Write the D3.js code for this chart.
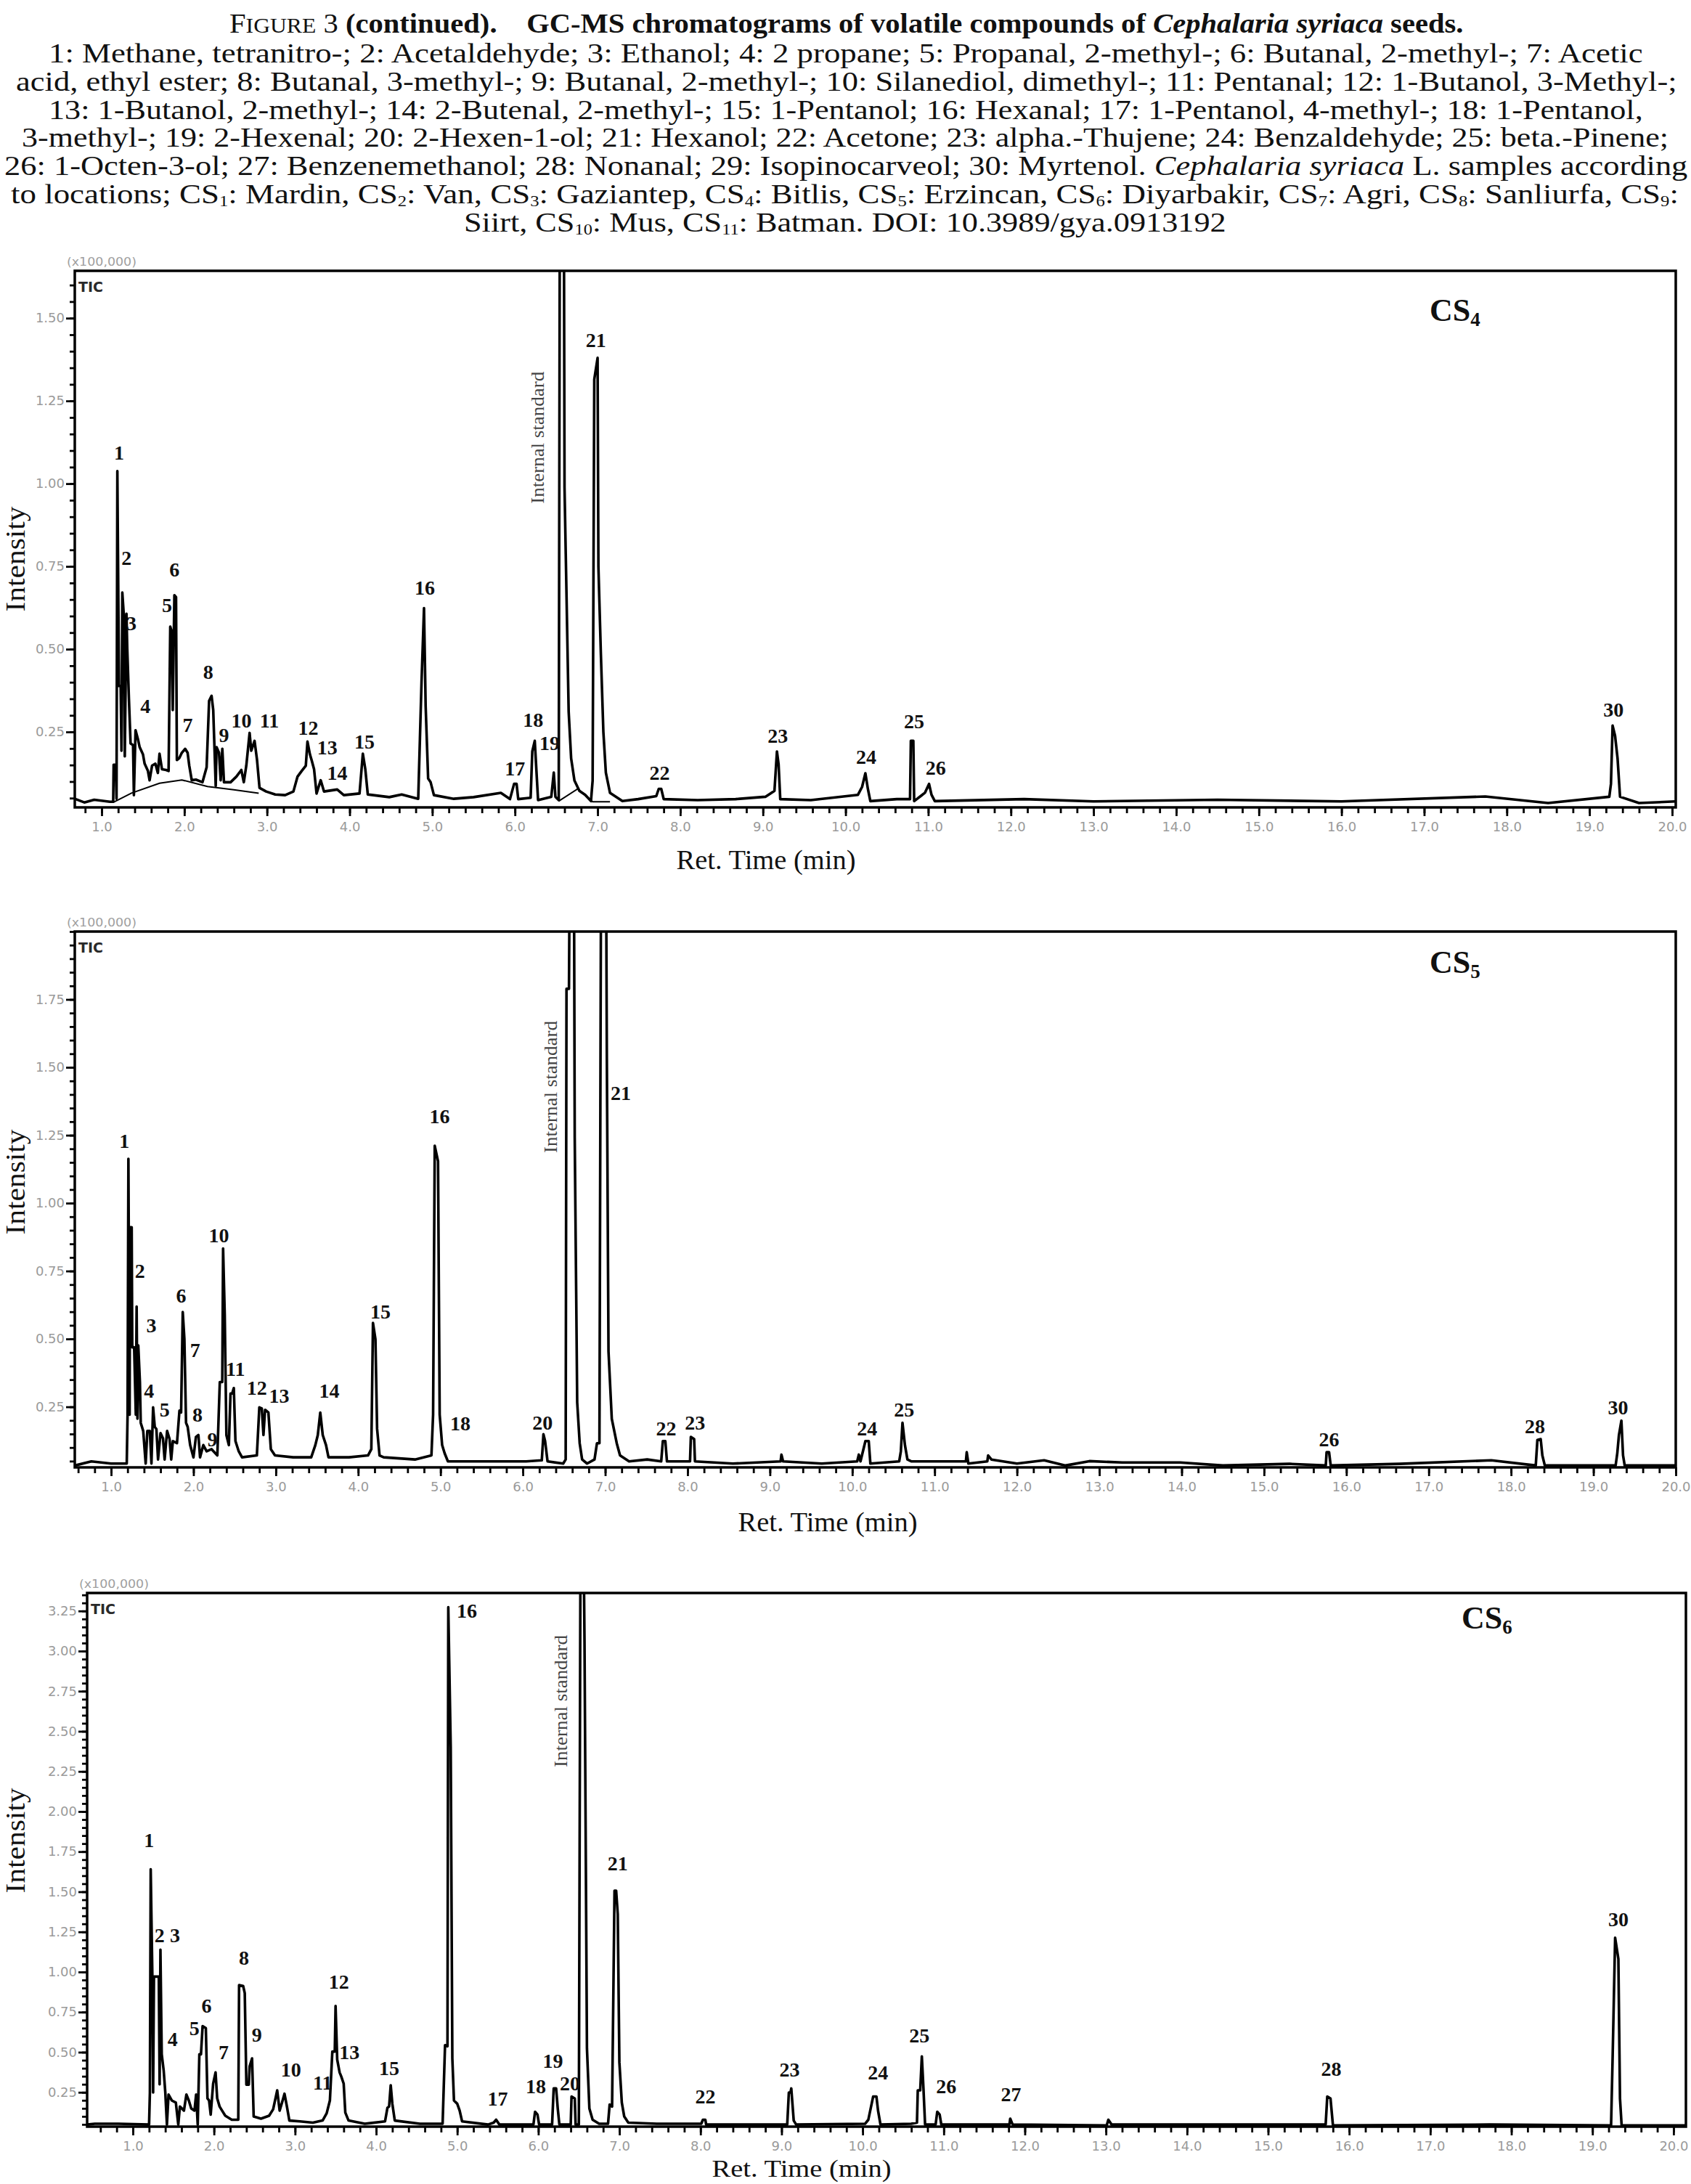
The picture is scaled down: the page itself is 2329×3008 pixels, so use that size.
<!DOCTYPE html>
<html>
<head>
<meta charset="utf-8">
<script src="https://d3js.org/d3.v7.min.js"></script>
<style>
    body { margin: 0; background: #fff; }
    .frame { fill: none; stroke: #000; stroke-width: 3.5; }
    .trace { fill: none; stroke: #000; stroke-width: 3.6; stroke-linejoin: round; }
    .base { fill: none; stroke: #000; stroke-width: 2; }
    .peak { font-family: "Liberation Serif", serif; font-weight: bold; font-size: 28px; fill: #111; }
</style>
</head>
<body>
<svg id="fig" width="2329" height="3008"></svg>
<script>
// ---- data: [retention time (min), intensity (x100,000)] ----
var cs4Trace = [[0.675,0.048],[0.79,0.037],[0.91,0.045],[1.10,0.039],[1.14,0.039],[1.145,0.151],[1.17,0.151],[1.18,0.048],[1.19,1.038],[1.21,0.389],[1.23,0.389],[1.24,0.193],[1.25,0.671],[1.27,0.596],[1.28,0.176],[1.30,0.607],[1.31,0.501],[1.33,0.350],[1.35,0.215],[1.38,0.21],[1.39,0.059],[1.41,0.255],[1.44,0.227],[1.46,0.204],[1.50,0.182],[1.52,0.154],[1.56,0.132],[1.58,0.104],[1.61,0.148],[1.65,0.154],[1.68,0.126],[1.70,0.184],[1.73,0.137],[1.78,0.135],[1.81,0.132],[1.83,0.568],[1.85,0.551],[1.86,0.316],[1.88,0.663],[1.90,0.657],[1.91,0.165],[1.94,0.171],[1.97,0.187],[2.01,0.199],[2.04,0.187],[2.06,0.148],[2.09,0.104],[2.14,0.106],[2.22,0.098],[2.27,0.143],[2.30,0.344],[2.33,0.359],[2.35,0.316],[2.38,0.087],[2.39,0.204],[2.42,0.187],[2.44,0.104],[2.46,0.199],[2.48,0.098],[2.56,0.098],[2.63,0.115],[2.69,0.135],[2.72,0.098],[2.75,0.148],[2.79,0.247],[2.81,0.193],[2.85,0.223],[2.88,0.165],[2.91,0.081],[2.99,0.07],[3.10,0.061],[3.22,0.059],[3.32,0.07],[3.37,0.115],[3.42,0.132],[3.47,0.148],[3.49,0.221],[3.52,0.182],[3.54,0.165],[3.57,0.137],[3.60,0.064],[3.65,0.104],[3.69,0.07],[3.85,0.076],[3.93,0.059],[4.12,0.064],[4.16,0.184],[4.19,0.137],[4.22,0.061],[4.48,0.053],[4.63,0.061],[4.83,0.048],[4.87,0.40],[4.90,0.624],[4.92,0.327],[4.95,0.109],[4.98,0.098],[5.02,0.059],[5.26,0.048],[5.50,0.053],[5.83,0.066],[5.94,0.047],[5.99,0.093],[6.02,0.093],[6.04,0.047],[6.19,0.051],[6.21,0.191],[6.24,0.223],[6.26,0.133],[6.28,0.044],[6.44,0.054],[6.47,0.127],[6.49,0.054],[6.53,0.044],[6.545,2.1],[6.59,2.1],[6.60,0.989],[6.65,0.312],[6.68,0.170],[6.72,0.103],[6.78,0.072],[6.85,0.06],[6.92,0.041],[6.94,0.103],[6.96,1.315],[7.00,1.380],[7.01,0.749],[7.04,0.484],[7.07,0.250],[7.10,0.127],[7.15,0.066],[7.21,0.056],[7.30,0.041],[7.49,0.047],[7.71,0.056],[7.74,0.078],[7.77,0.078],[7.80,0.047],[8.21,0.044],[8.67,0.047],[9.03,0.054],[9.14,0.072],[9.17,0.191],[9.19,0.152],[9.21,0.047],[9.58,0.044],[10.15,0.06],[10.20,0.084],[10.24,0.125],[10.27,0.078],[10.30,0.041],[10.62,0.047],[10.78,0.047],[10.79,0.223],[10.82,0.223],[10.83,0.041],[10.96,0.066],[11.01,0.093],[11.04,0.06],[11.08,0.041],[12.16,0.047],[13.0,0.04],[14.5,0.045],[16.0,0.04],[17.74,0.055],[18.5,0.035],[19.24,0.054],[19.26,0.093],[19.28,0.269],[19.31,0.238],[19.34,0.170],[19.37,0.054],[19.6,0.035],[20.044,0.04]];
var cs4Baselines = [
    [[1.14,0.037],[1.36,0.065],[1.7,0.095],[1.97,0.105],[2.28,0.085],[2.6,0.075],[2.9,0.065]],
    [[6.53,0.041],[6.76,0.078],[6.94,0.039],[7.15,0.039]]
];
var cs4Labels = [["1",1.21,1.094],["2",1.30,0.775],["3",1.36,0.579],["4",1.53,0.329],["5",1.79,0.632],["6",1.88,0.741],["7",2.04,0.271],["8",2.29,0.430],["9",2.48,0.240],["10",2.69,0.285],["11",3.03,0.285],["12",3.50,0.263],["13",3.73,0.204],["14",3.85,0.126],["15",4.18,0.221],["16",4.91,0.685],["17",6.00,0.140],["18",6.22,0.287],["19",6.42,0.216],["21",6.98,1.434],["22",7.75,0.127],["23",9.18,0.238],["24",10.25,0.174],["25",10.83,0.281],["26",11.09,0.142],["30",19.29,0.318]];
var cs4Istd = [6.27, 1.139];
var cs4YTicks = [0.25, 0.50, 0.75, 1.00, 1.25, 1.50];

var cs5Trace = [[0.56,0.034],[0.76,0.049],[1.0,0.041],[1.19,0.041],[1.20,0.221],[1.21,1.163],[1.225,0.221],[1.23,0.911],[1.25,0.911],[1.257,0.469],[1.28,0.469],[1.30,0.221],[1.31,0.619],[1.32,0.206],[1.33,0.476],[1.35,0.341],[1.36,0.191],[1.39,0.161],[1.42,0.041],[1.44,0.161],[1.47,0.161],[1.49,0.041],[1.51,0.248],[1.53,0.176],[1.55,0.168],[1.57,0.056],[1.60,0.153],[1.63,0.134],[1.65,0.056],[1.68,0.161],[1.71,0.131],[1.73,0.056],[1.75,0.124],[1.80,0.116],[1.83,0.236],[1.85,0.229],[1.87,0.599],[1.89,0.499],[1.91,0.191],[1.93,0.176],[1.96,0.109],[2.00,0.064],[2.03,0.139],[2.06,0.146],[2.08,0.064],[2.12,0.109],[2.16,0.086],[2.22,0.094],[2.29,0.071],[2.32,0.341],[2.35,0.341],[2.36,0.833],[2.38,0.589],[2.40,0.146],[2.43,0.109],[2.45,0.299],[2.47,0.299],[2.49,0.319],[2.51,0.124],[2.55,0.086],[2.59,0.064],[2.77,0.071],[2.80,0.248],[2.83,0.244],[2.85,0.146],[2.87,0.239],[2.91,0.229],[2.94,0.094],[2.99,0.071],[3.21,0.064],[3.43,0.064],[3.48,0.109],[3.51,0.146],[3.54,0.229],[3.57,0.146],[3.61,0.109],[3.64,0.064],[3.89,0.064],[4.12,0.071],[4.16,0.094],[4.18,0.559],[4.21,0.499],[4.23,0.169],[4.26,0.071],[4.31,0.064],[4.69,0.056],[4.89,0.071],[4.91,0.221],[4.93,1.211],[4.97,1.154],[4.99,0.221],[5.02,0.109],[5.05,0.079],[5.09,0.049],[5.42,0.049],[5.89,0.049],[6.04,0.049],[6.23,0.053],[6.25,0.149],[6.27,0.124],[6.30,0.049],[6.49,0.041],[6.52,0.056],[6.53,1.789],[6.56,1.789],[6.57,2.3],[6.62,2.3],[6.63,1.241],[6.66,0.266],[6.69,0.116],[6.72,0.056],[6.78,0.041],[6.87,0.056],[6.90,0.116],[6.93,0.116],[6.95,2.3],[7.01,2.3],[7.02,1.534],[7.04,0.454],[7.08,0.206],[7.14,0.116],[7.18,0.071],[7.29,0.049],[7.51,0.056],[7.68,0.049],[7.70,0.124],[7.73,0.124],[7.75,0.049],[8.03,0.049],[8.04,0.139],[8.08,0.131],[8.09,0.049],[8.55,0.041],[9.13,0.049],[9.14,0.074],[9.16,0.049],[9.63,0.041],[10.06,0.049],[10.08,0.074],[10.10,0.049],[10.16,0.124],[10.20,0.124],[10.22,0.041],[10.57,0.049],[10.59,0.086],[10.61,0.191],[10.64,0.109],[10.67,0.056],[10.72,0.049],[11.38,0.049],[11.39,0.083],[11.41,0.041],[11.64,0.049],[11.65,0.071],[11.69,0.056],[12.0,0.041],[12.33,0.053],[12.59,0.034],[12.88,0.05],[13.28,0.045],[13.98,0.045],[14.5,0.034],[15.31,0.04],[15.75,0.034],[15.76,0.083],[15.79,0.083],[15.81,0.034],[16.65,0.04],[17.76,0.053],[18.30,0.034],[18.32,0.128],[18.36,0.131],[18.38,0.071],[18.41,0.034],[19.27,0.034],[19.29,0.079],[19.31,0.146],[19.34,0.199],[19.36,0.071],[19.38,0.034],[20.0,0.034]];
var cs5Labels = [["1",1.16,1.23],["2",1.35,0.75],["3",1.49,0.55],["4",1.46,0.31],["5",1.65,0.24],["6",1.85,0.66],["7",2.02,0.46],["8",2.05,0.22],["9",2.23,0.13],["10",2.31,0.88],["11",2.51,0.39],["12",2.77,0.32],["13",3.04,0.29],["14",3.65,0.31],["15",4.27,0.60],["16",4.99,1.32],["18",5.24,0.19],["20",6.24,0.191],["21",7.19,1.406],["22",7.74,0.169],["23",8.09,0.191],["24",10.18,0.169],["25",10.63,0.239],["26",15.79,0.131],["28",18.29,0.179],["30",19.30,0.248]];
var cs5Istd = [6.33, 1.428];
var cs5YTicks = [0.25, 0.50, 0.75, 1.00, 1.25, 1.50, 1.75];

var cs6Trace = [[0.436,0.049],[0.53,0.054],[0.82,0.054],[1.20,0.049],[1.21,0.249],[1.22,1.640],[1.24,0.988],[1.25,0.249],[1.26,0.971],[1.32,0.971],[1.33,0.3],[1.34,1.139],[1.356,0.487],[1.38,0.386],[1.40,0.249],[1.42,0.049],[1.44,0.236],[1.48,0.199],[1.53,0.186],[1.56,0.049],[1.58,0.161],[1.63,0.136],[1.66,0.236],[1.69,0.199],[1.72,0.149],[1.76,0.136],[1.78,0.236],[1.80,0.049],[1.82,0.487],[1.84,0.487],[1.86,0.662],[1.90,0.650],[1.92,0.212],[1.94,0.199],[1.96,0.111],[1.99,0.304],[2.02,0.374],[2.04,0.212],[2.07,0.161],[2.10,0.136],[2.14,0.104],[2.22,0.079],[2.30,0.079],[2.31,0.918],[2.36,0.913],[2.38,0.868],[2.40,0.298],[2.43,0.298],[2.44,0.411],[2.47,0.461],[2.49,0.099],[2.58,0.086],[2.68,0.104],[2.73,0.144],[2.78,0.262],[2.81,0.136],[2.84,0.186],[2.87,0.241],[2.90,0.161],[2.93,0.074],[3.06,0.069],[3.22,0.061],[3.34,0.074],[3.39,0.119],[3.43,0.199],[3.46,0.504],[3.49,0.504],[3.50,0.788],[3.52,0.454],[3.55,0.374],[3.57,0.349],[3.60,0.304],[3.62,0.124],[3.66,0.074],[3.86,0.054],[4.11,0.069],[4.14,0.154],[4.16,0.161],[4.18,0.294],[4.20,0.179],[4.23,0.074],[4.54,0.054],[4.82,0.054],[4.85,0.544],[4.88,0.537],[4.89,3.273],[4.92,2.403],[4.94,0.461],[4.96,0.199],[5.00,0.179],[5.03,0.136],[5.06,0.069],[5.38,0.049],[5.45,0.061],[5.48,0.079],[5.52,0.049],[5.94,0.049],[5.96,0.129],[5.99,0.111],[6.01,0.049],[6.17,0.049],[6.19,0.274],[6.22,0.274],[6.24,0.149],[6.26,0.049],[6.40,0.049],[6.41,0.224],[6.45,0.211],[6.46,0.049],[6.50,0.049],[6.52,3.6],[6.56,3.6],[6.57,3.055],[6.60,0.524],[6.63,0.149],[6.67,0.079],[6.75,0.054],[6.86,0.054],[6.88,0.174],[6.91,0.161],[6.94,1.507],[6.96,1.507],[6.98,1.359],[7.00,0.437],[7.03,0.186],[7.06,0.099],[7.11,0.061],[7.46,0.054],[8.01,0.054],[8.03,0.079],[8.06,0.079],[8.07,0.049],[9.07,0.049],[9.09,0.249],[9.11,0.249],[9.12,0.274],[9.15,0.074],[9.18,0.049],[10.03,0.054],[10.07,0.079],[10.13,0.224],[10.17,0.224],[10.19,0.136],[10.22,0.049],[10.60,0.054],[10.67,0.061],[10.68,0.262],[10.71,0.262],[10.73,0.474],[10.75,0.274],[10.77,0.049],[10.90,0.049],[10.92,0.129],[10.95,0.111],[10.97,0.049],[11.81,0.049],[11.82,0.086],[11.85,0.049],[13.01,0.044],[13.03,0.079],[13.07,0.049],[14.41,0.049],[15.71,0.049],[15.73,0.224],[15.77,0.211],[15.80,0.044],[17.73,0.049],[19.23,0.044],[19.25,0.487],[19.28,1.214],[19.32,1.081],[19.34,0.211],[19.36,0.044],[20.153,0.044]];
var cs6Labels = [["1",1.20,1.82],["2",1.33,1.23],["3",1.52,1.23],["4",1.49,0.58],["5",1.76,0.65],["6",1.91,0.79],["7",2.12,0.50],["8",2.37,1.09],["9",2.53,0.61],["10",2.95,0.39],["11",3.34,0.31],["12",3.54,0.94],["13",3.67,0.50],["15",4.16,0.40],["16",5.12,3.25],["17",5.50,0.21],["18",5.97,0.287],["19",6.18,0.445],["20",6.39,0.304],["21",6.98,1.677],["22",8.06,0.224],["23",9.10,0.392],["24",10.19,0.374],["25",10.70,0.605],["26",11.03,0.287],["27",11.83,0.237],["28",15.78,0.394],["30",19.32,1.326]];
var cs6Istd = [6.27, 2.688];
var cs6YTicks = [0.25, 0.50, 0.75, 1.00, 1.25, 1.50, 1.75, 2.00, 2.25, 2.50, 2.75, 3.00, 3.25];

var xTicks = [1, 2, 3, 4, 5, 6, 7, 8, 9, 10, 11, 12, 13, 14, 15, 16, 17, 18, 19, 20];

// ---- caption text ----
var titleSegs = [["F", ""], ["IGURE", "sc"], [" 3 ", ""], ["(continued).", "b"], ["    GC-MS chromatograms of volatile compounds of ", "b"], ["Cephalaria syriaca", "bi"], [" seeds.", "b"]];
var captionLines = [
    [["1: Methane, tetranitro-; 2: Acetaldehyde; 3: Ethanol; 4: 2 propane; 5: Propanal, 2-methyl-; 6: Butanal, 2-methyl-; 7: Acetic", ""]],
    [["acid, ethyl ester; 8: Butanal, 3-methyl-; 9: Butanal, 2-methyl-; 10: Silanediol, dimethyl-; 11: Pentanal; 12: 1-Butanol, 3-Methyl-;", ""]],
    [["13: 1-Butanol, 2-methyl-; 14: 2-Butenal, 2-methyl-; 15: 1-Pentanol; 16: Hexanal; 17: 1-Pentanol, 4-methyl-; 18: 1-Pentanol,", ""]],
    [["3-methyl-; 19: 2-Hexenal; 20: 2-Hexen-1-ol; 21: Hexanol; 22: Acetone; 23: alpha.-Thujene; 24: Benzaldehyde; 25: beta.-Pinene;", ""]],
    [["26: 1-Octen-3-ol; 27: Benzenemethanol; 28: Nonanal; 29: Isopinocarveol; 30: Myrtenol. ", ""], ["Cephalaria syriaca", "i"], [" L. samples according", ""]],
    [["to locations; CS", ""], ["1", "sub"], [": Mardin, CS", ""], ["2", "sub"], [": Van, CS", ""], ["3", "sub"], [": Gaziantep, CS", ""], ["4", "sub"], [": Bitlis, CS", ""], ["5", "sub"], [": Erzincan, CS", ""], ["6", "sub"], [": Diyarbakir, CS", ""], ["7", "sub"], [": Agri, CS", ""], ["8", "sub"], [": Sanliurfa, CS", ""], ["9", "sub"], [":", ""]],
    [["Siirt, CS", ""], ["10", "sub"], [": Mus, CS", ""], ["11", "sub"], [": Batman. DOI: 10.3989/gya.0913192", ""]]
];

var serif = "'Liberation Serif', 'Times New Roman', serif";
var svg = d3.select("#fig");

function richText(parent, segs, size, left, right, baseline) {
    var t = parent.append("text")
        .attr("font-family", serif)
        .attr("font-size", size)
        .attr("fill", "#111")
        .style("white-space", "pre");
    var shift = 0;
    segs.forEach(function(s) {
        var sp = t.append("tspan").text(s[0]);
        if (s[1] === "b" || s[1] === "bi") sp.attr("font-weight", "bold");
        if (s[1] === "i" || s[1] === "bi") sp.attr("font-style", "italic");
        if (s[1] === "sc") sp.attr("font-size", size * 0.78);
        if (s[1] === "sub") {
            sp.attr("font-size", size * 0.55).attr("dy", size * 0.1);
            shift = size * 0.1;
        } else if (shift) {
            sp.attr("dy", -shift);
            shift = 0;
        }
    });
    var w = t.node().getComputedTextLength();
    t.attr("transform", "translate(" + left + "," + baseline + ") scale(" + ((right - left) / w) + ",1)");
}

// header
richText(svg, titleSegs, 38, 316, 2016, 45);
var lineSpans = [[67, 2263], [22, 2310], [67, 2263], [30, 2299], [6, 2325], [15, 2313], [639, 1689]];
captionLines.forEach(function(segs, i) {
    richText(svg, segs, 37, lineSpans[i][0], lineSpans[i][1], 86 + i * 38.8);
});

// panels: layout in pixels, data from the arrays above
var panels = [
    { trace: cs4Trace, baselines: cs4Baselines, labels: cs4Labels, istd: cs4Istd, yTicks: cs4YTicks, sub: "4",
      left: 103, right: 2308, top: 373, bottom: 1112, xDom: [0.675, 20.044], yDom: [0.022, 1.643],
      csX: 1969, csY: 442, intY: 770, retX: 1055, retY: 1197, retSize: 37 },
    { trace: cs5Trace, baselines: [], labels: cs5Labels, istd: cs5Istd, yTicks: cs5YTicks, sub: "5",
      left: 103, right: 2308, top: 1283, bottom: 2021, xDom: [0.559, 20.0], yDom: [0.027, 2.0],
      csX: 1969, csY: 1340, intY: 1628, retX: 1140, retY: 2109, retSize: 37 },
    { trace: cs6Trace, baselines: [], labels: cs6Labels, istd: cs6Istd, yTicks: cs6YTicks, sub: "6",
      left: 120, right: 2322, top: 2194, bottom: 2929, xDom: [0.436, 20.153], yDom: [0.036, 3.362],
      csX: 2013, csY: 2243, intY: 2535, retX: 1104, retY: 2998, retSize: 33 }
];

panels.forEach(function(p, pi) {
    var x = d3.scaleLinear().domain(p.xDom).range([p.left, p.right]);
    var y = d3.scaleLinear().domain(p.yDom).range([p.bottom, p.top]);
    var g = svg.append("g");

    var clipId = "clip" + pi;
    svg.append("clipPath").attr("id", clipId)
        .append("rect").attr("x", p.left).attr("y", p.top)
        .attr("width", p.right - p.left).attr("height", p.bottom - p.top);

    // minor and major ticks
    var xMinor = d3.range(Math.ceil(p.xDom[0] * 5), Math.floor(p.xDom[1] * 5) + 1).map(function(k) { return k / 5; });
    var yMinor = d3.range(Math.ceil(p.yDom[0] * 20), Math.floor(p.yDom[1] * 20) + 1).map(function(k) { return k / 20; });

    function styleAxis(sel) {
        sel.select(".domain").remove();
        sel.selectAll("line").attr("stroke", "#000").attr("stroke-width", 2.8);
        sel.selectAll("text").attr("fill", "#9a9a9a");
        sel.attr("font-family", "'DejaVu Sans', sans-serif").attr("font-size", 18);
    }

    g.append("g").attr("transform", "translate(0," + p.bottom + ")")
        .call(d3.axisBottom(x).tickValues(xMinor).tickSize(8).tickFormat(""))
        .call(styleAxis);
    g.append("g").attr("transform", "translate(0," + p.bottom + ")")
        .call(d3.axisBottom(x).tickValues(xTicks).tickSize(12).tickPadding(8).tickFormat(d3.format(".1f")))
        .call(styleAxis);
    g.append("g").attr("transform", "translate(" + p.left + ",0)")
        .call(d3.axisLeft(y).tickValues(yMinor).tickSize(7).tickFormat(""))
        .call(styleAxis);
    g.append("g").attr("transform", "translate(" + p.left + ",0)")
        .call(d3.axisLeft(y).tickValues(p.yTicks).tickSize(12).tickPadding(2).tickFormat(d3.format(".2f")))
        .call(styleAxis);

    // chromatogram
    var line = d3.line().x(function(d) { return x(d[0]); }).y(function(d) { return y(d[1]); });
    var plot = g.append("g").attr("clip-path", "url(#" + clipId + ")");
    p.baselines.forEach(function(b) {
        plot.append("path").datum(b).attr("class", "base").attr("d", line);
    });
    plot.append("path").datum(p.trace).attr("class", "trace").attr("d", line);

    g.append("rect").attr("class", "frame")
        .attr("x", p.left).attr("y", p.top)
        .attr("width", p.right - p.left).attr("height", p.bottom - p.top);

    // peak numbers
    g.selectAll(".peak").data(p.labels).enter().append("text")
        .attr("class", "peak")
        .attr("x", function(d) { return x(d[1]); })
        .attr("y", function(d) { return y(d[2]); })
        .attr("text-anchor", "middle")
        .attr("dominant-baseline", "central")
        .text(function(d) { return d[0]; });

    // internal standard note
    g.append("text")
        .attr("transform", "translate(" + (x(p.istd[0]) + 9) + "," + y(p.istd[1]) + ") rotate(-90)")
        .attr("text-anchor", "middle")
        .attr("font-family", serif).attr("font-size", 25).attr("fill", "#444")
        .attr("textLength", 182).attr("lengthAdjust", "spacingAndGlyphs")
        .text("Internal standard");

    // small instrument labels
    g.append("text").attr("x", p.left - 11).attr("y", p.top - 7)
        .attr("font-family", "'DejaVu Sans', sans-serif").attr("font-size", 15).attr("fill", "#a0a0a0")
        .attr("textLength", 96).attr("lengthAdjust", "spacingAndGlyphs")
        .text("(x100,000)");
    g.append("text").attr("x", p.left + 5).attr("y", p.top + 29)
        .attr("font-family", "'DejaVu Sans', sans-serif").attr("font-size", 19).attr("font-weight", "bold")
        .attr("fill", "#2a2a2a").attr("textLength", 34).attr("lengthAdjust", "spacingAndGlyphs")
        .text("TIC");

    // sample name
    var cs = g.append("text").attr("x", p.csX).attr("y", p.csY)
        .attr("font-family", serif).attr("font-size", 44).attr("font-weight", "bold").attr("fill", "#111");
    cs.append("tspan").text("CS");
    cs.append("tspan").attr("font-size", 27).attr("dy", 7).text(p.sub);

    // axis titles
    g.append("text")
        .attr("transform", "translate(34," + p.intY + ") rotate(-90)")
        .attr("text-anchor", "middle")
        .attr("font-family", serif).attr("font-size", 37).attr("fill", "#111")
        .attr("textLength", 145).attr("lengthAdjust", "spacingAndGlyphs")
        .text("Intensity");
    g.append("text")
        .attr("x", p.retX).attr("y", p.retY)
        .attr("text-anchor", "middle")
        .attr("font-family", serif).attr("font-size", p.retSize).attr("fill", "#111")
        .attr("textLength", 247).attr("lengthAdjust", "spacingAndGlyphs")
        .text("Ret. Time (min)");
});
</script>
</body>
</html>
